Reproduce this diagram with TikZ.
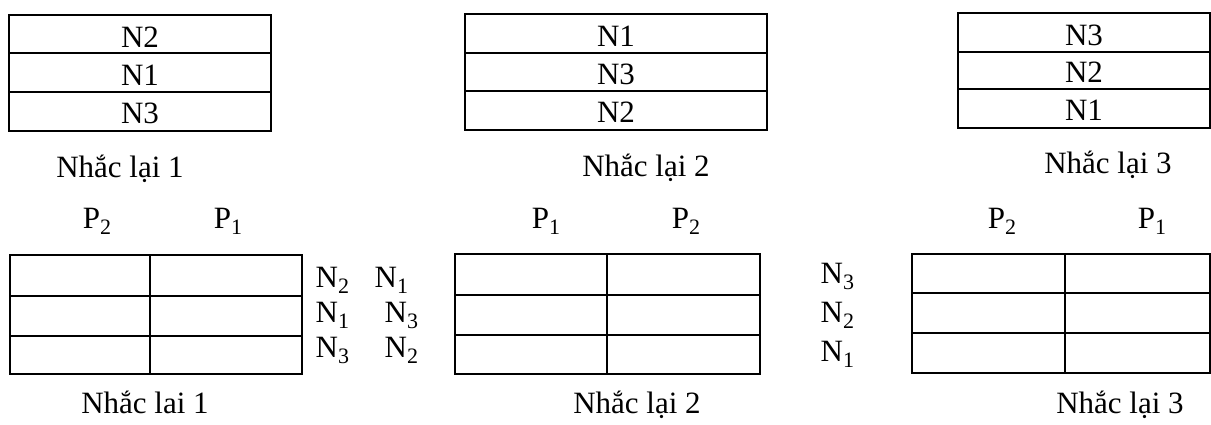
\documentclass[tikz,border=0pt]{standalone}
\usepackage{fontspec}
\setmainfont{Liberation Serif}
\newcommand\mysub[1]{\raisebox{-0.2em}{\fontsize{22}{22}\selectfont #1}}
\begin{document}
\begin{tikzpicture}[x=1pt,y=-1pt,line width=1.4pt,
  lbl/.style={font=\fontsize{31}{36}\selectfont,inner sep=0pt,anchor=base}]
\useasboundingbox (0,0) rectangle (1211,424);
% ---- top tables ----
\draw (9,15) rectangle (271,131);
\draw (9,53) -- (271,53) (9,92) -- (271,92);
\node[lbl] (a1) at (140,47) {N2};
\node[lbl] (a2) at (140,85) {N1};
\node[lbl] (a3) at (140,123) {N3};
\node[lbl] (la) at (120,177) {Nhắc lại 1};

\draw (465,14) rectangle (767,130);
\draw (465,53) -- (767,53) (465,91) -- (767,91);
\node[lbl] (b1) at (616,46) {N1};
\node[lbl] (b2) at (616,84) {N3};
\node[lbl] (b3) at (616,122) {N2};
\node[lbl] (lb) at (646,176) {Nhắc lại 2};

\draw (958,13) rectangle (1210,128);
\draw (958,52) -- (1210,52) (958,89) -- (1210,89);
\node[lbl] (c1) at (1084,45) {N3};
\node[lbl] (c2) at (1084,82) {N2};
\node[lbl] (c3) at (1084,120) {N1};
\node[lbl] (lc) at (1108,173) {Nhắc lại 3};

% ---- bottom tables ----
\draw (10,255) rectangle (302,374);
\draw (10,296) -- (302,296) (10,336) -- (302,336) (150,255) -- (150,374);
\node[lbl] (p12) at (97,228) {P\mysub{2}};
\node[lbl] (p11) at (228,228) {P\mysub{1}};
\node[lbl,anchor=base west] (d11) at (315,287) {N\mysub{2}};
\node[lbl,anchor=base west] (d12) at (374,287) {N\mysub{1}};
\node[lbl,anchor=base west] (d21) at (315,322) {N\mysub{1}};
\node[lbl,anchor=base west] (d22) at (384,322) {N\mysub{3}};
\node[lbl,anchor=base west] (d31) at (315,357) {N\mysub{3}};
\node[lbl,anchor=base west] (d32) at (384,357) {N\mysub{2}};
\node[lbl] (ld) at (145,413) {Nhắc lai 1};

\draw (455,254) rectangle (760,374);
\draw (455,295) -- (760,295) (455,335) -- (760,335) (607,254) -- (607,374);
\node[lbl] (p21) at (546,228) {P\mysub{1}};
\node[lbl] (p22) at (686,228) {P\mysub{2}};
\node[lbl,anchor=base west] (e1) at (820,283) {N\mysub{3}};
\node[lbl,anchor=base west] (e2) at (820,322) {N\mysub{2}};
\node[lbl,anchor=base west] (e3) at (820,361) {N\mysub{1}};
\node[lbl] (le) at (637,413) {Nhắc lại 2};

\draw (912,254) rectangle (1210,373);
\draw (912,293) -- (1210,293) (912,333) -- (1210,333) (1065,254) -- (1065,373);
\node[lbl] (p32) at (1002,228) {P\mysub{2}};
\node[lbl] (p31) at (1152,228) {P\mysub{1}};
\node[lbl] (lf) at (1120,413) {Nhắc lại 3};
\end{tikzpicture}
\end{document}
